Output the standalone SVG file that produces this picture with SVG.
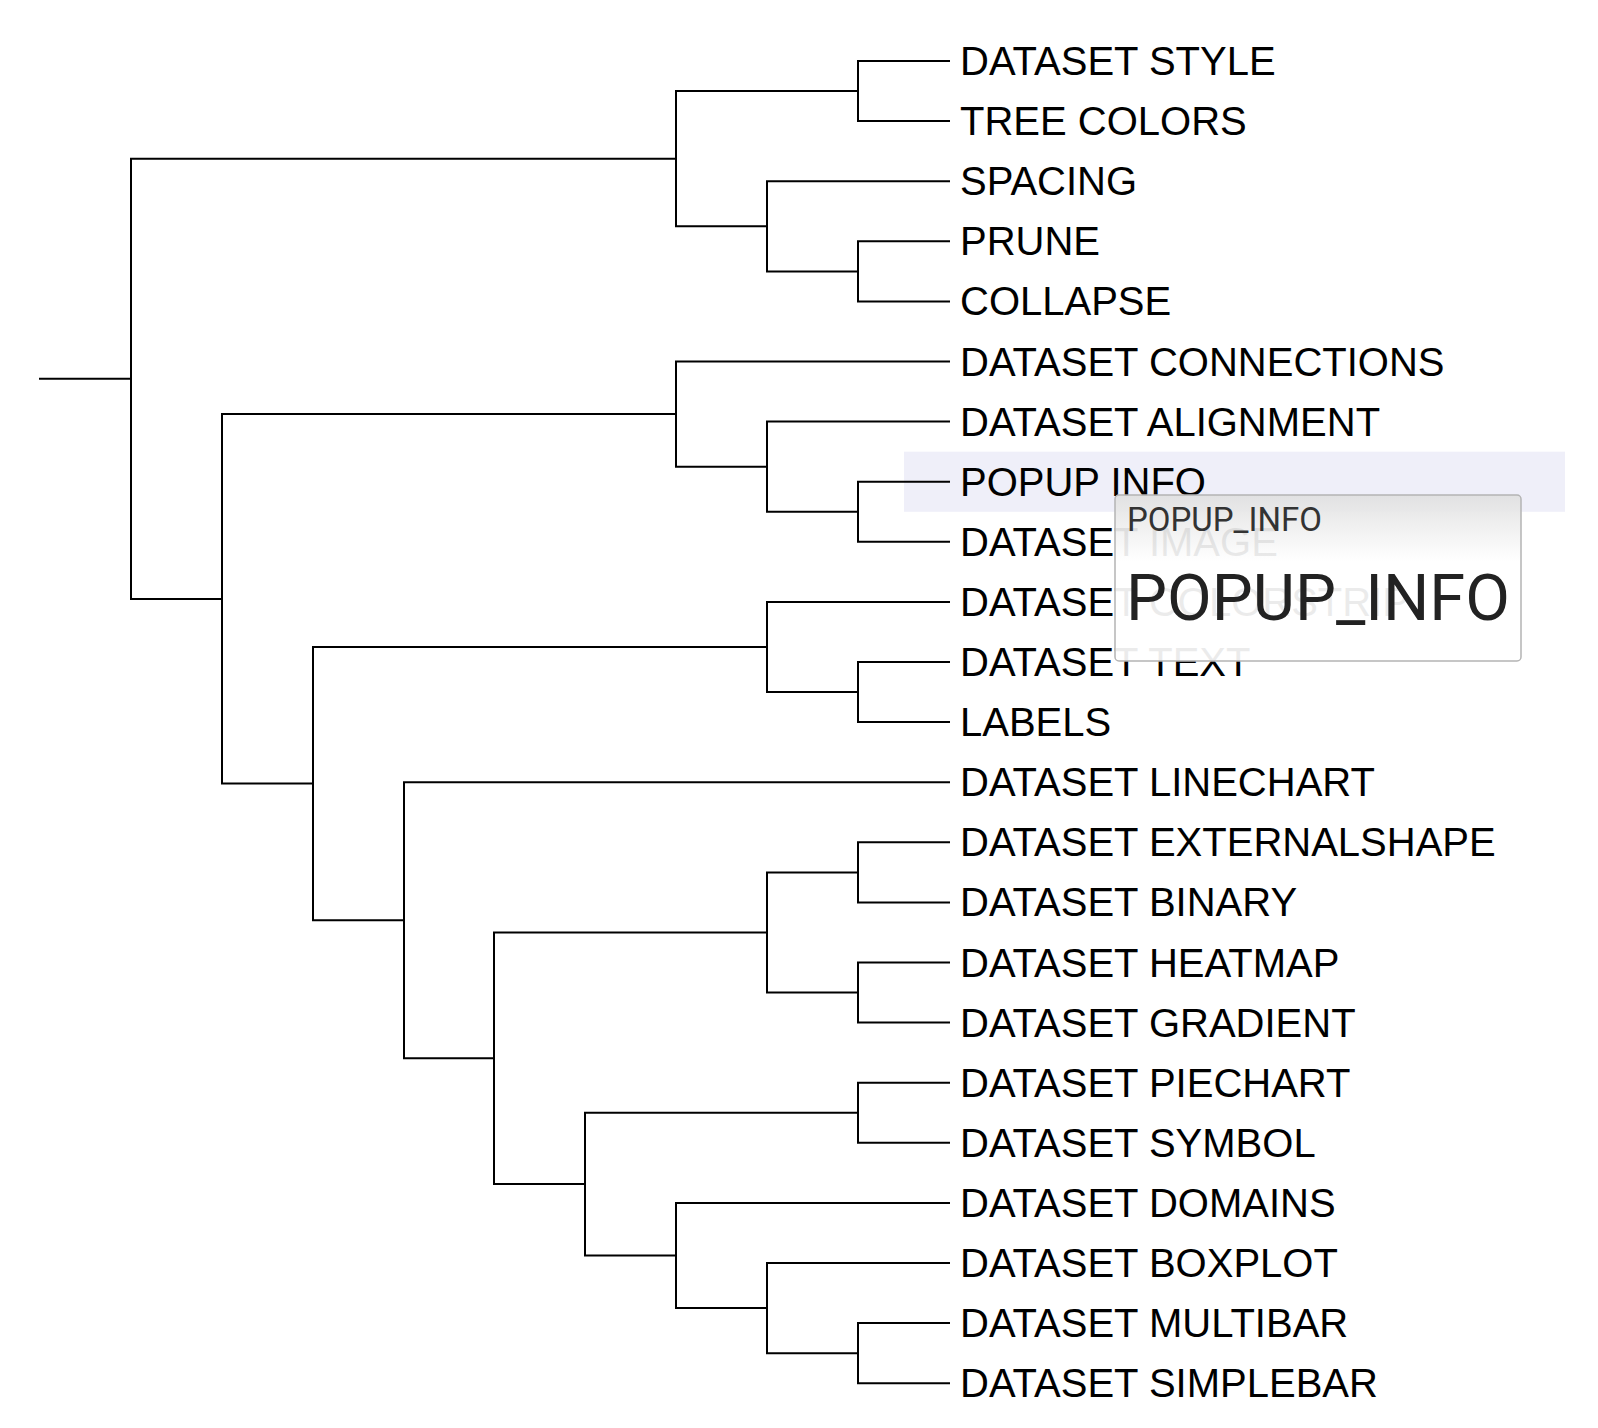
<svg xmlns="http://www.w3.org/2000/svg" width="1598" height="1428" viewBox="0 0 1598 1428">
<style>
.br{fill:none;stroke:#000;stroke-width:2;stroke-linejoin:miter;stroke-linecap:square}
.lbl{font-family:"Liberation Sans",Arial,sans-serif;font-size:40px;fill:#000}
.tip1{font-family:Roboto,"Liberation Sans",sans-serif;font-size:33px;fill:#333}
.tip2{font-family:Roboto,"Liberation Sans",sans-serif;font-size:65px;fill:#222}
</style>
<defs>
<linearGradient id="tipgrad" x1="0" y1="0" x2="0" y2="1">
<stop offset="0" stop-color="#e0e0e0"/>
<stop offset="0.4" stop-color="#ffffff"/>
<stop offset="1" stop-color="#ffffff"/>
</linearGradient>
</defs>
<rect width="1598" height="1428" fill="#fff"/>
<rect id="highlight" x="904" y="451.7" width="661" height="60.1" fill="#efeff9"/>
<g id="connectors">
<path class="br" d="M40 378.8 H131"/>
<path class="br" d="M676 158.7 H131 V598.9 H222"/>
<path class="br" d="M858 91.1 H676 V226.3 H767"/>
<path class="br" d="M949 61 H858 V121.1 H949"/>
<path class="br" d="M949 181.2 H767 V271.4 H858"/>
<path class="br" d="M949 241.3 H858 V301.4 H949"/>
<path class="br" d="M676 414.1 H222 V783.6 H313"/>
<path class="br" d="M949 361.5 H676 V466.7 H767"/>
<path class="br" d="M949 421.6 H767 V511.8 H858"/>
<path class="br" d="M949 481.7 H858 V541.8 H949"/>
<path class="br" d="M767 647 H313 V920.3 H404"/>
<path class="br" d="M949 601.9 H767 V692.1 H858"/>
<path class="br" d="M949 662 H858 V722.1 H949"/>
<path class="br" d="M949 782.2 H404 V1058.3 H494"/>
<path class="br" d="M767 932.5 H494 V1184.1 H585"/>
<path class="br" d="M858 872.4 H767 V992.6 H858"/>
<path class="br" d="M949 842.3 H858 V902.4 H949"/>
<path class="br" d="M949 962.5 H858 V1022.6 H949"/>
<path class="br" d="M858 1112.8 H585 V1255.5 H676"/>
<path class="br" d="M949 1082.7 H858 V1142.8 H949"/>
<path class="br" d="M949 1202.9 H676 V1308.1 H767"/>
<path class="br" d="M949 1263 H767 V1353.2 H858"/>
<path class="br" d="M949 1323.1 H858 V1383.2 H949"/>
</g>
<g id="leaf-dataset-style"><text class="lbl" x="960" y="75">DATASET STYLE</text></g>
<g id="leaf-tree-colors"><text class="lbl" x="960" y="135.1">TREE COLORS</text></g>
<g id="leaf-spacing"><text class="lbl" x="960" y="195.2">SPACING</text></g>
<g id="leaf-prune"><text class="lbl" x="960" y="255.3">PRUNE</text></g>
<g id="leaf-collapse"><text class="lbl" x="960" y="315.4">COLLAPSE</text></g>
<g id="leaf-dataset-connections"><text class="lbl" x="960" y="375.5">DATASET CONNECTIONS</text></g>
<g id="leaf-dataset-alignment"><text class="lbl" x="960" y="435.6">DATASET ALIGNMENT</text></g>
<g id="leaf-popup-info"><text class="lbl" x="960" y="495.7">POPUP INFO</text></g>
<g id="leaf-dataset-image"><text class="lbl" x="960" y="555.8">DATASET IMAGE</text></g>
<g id="leaf-dataset-colorstrip"><text class="lbl" x="960" y="615.9">DATASET COLORSTRIP</text></g>
<g id="leaf-dataset-text"><text class="lbl" x="960" y="676">DATASET TEXT</text></g>
<g id="leaf-labels"><text class="lbl" x="960" y="736.1">LABELS</text></g>
<g id="leaf-dataset-linechart"><text class="lbl" x="960" y="796.2">DATASET LINECHART</text></g>
<g id="leaf-dataset-externalshape"><text class="lbl" x="960" y="856.3">DATASET EXTERNALSHAPE</text></g>
<g id="leaf-dataset-binary"><text class="lbl" x="960" y="916.4">DATASET BINARY</text></g>
<g id="leaf-dataset-heatmap"><text class="lbl" x="960" y="976.5">DATASET HEATMAP</text></g>
<g id="leaf-dataset-gradient"><text class="lbl" x="960" y="1036.6">DATASET GRADIENT</text></g>
<g id="leaf-dataset-piechart"><text class="lbl" x="960" y="1096.7">DATASET PIECHART</text></g>
<g id="leaf-dataset-symbol"><text class="lbl" x="960" y="1156.8">DATASET SYMBOL</text></g>
<g id="leaf-dataset-domains"><text class="lbl" x="960" y="1216.9">DATASET DOMAINS</text></g>
<g id="leaf-dataset-boxplot"><text class="lbl" x="960" y="1277">DATASET BOXPLOT</text></g>
<g id="leaf-dataset-multibar"><text class="lbl" x="960" y="1337.1">DATASET MULTIBAR</text></g>
<g id="leaf-dataset-simplebar"><text class="lbl" x="960" y="1397.2">DATASET SIMPLEBAR</text></g>
<g id="tooltip">
<rect x="1115" y="495" width="406" height="166" rx="4" fill="url(#tipgrad)" fill-opacity="0.92" stroke="#b4b4b4" stroke-width="1.5"/>
<text class="tip1" x="1127" y="531">POPUP_INFO</text>
<text class="tip2" x="1126" y="620">POPUP_INFO</text>
</g>
</svg>
